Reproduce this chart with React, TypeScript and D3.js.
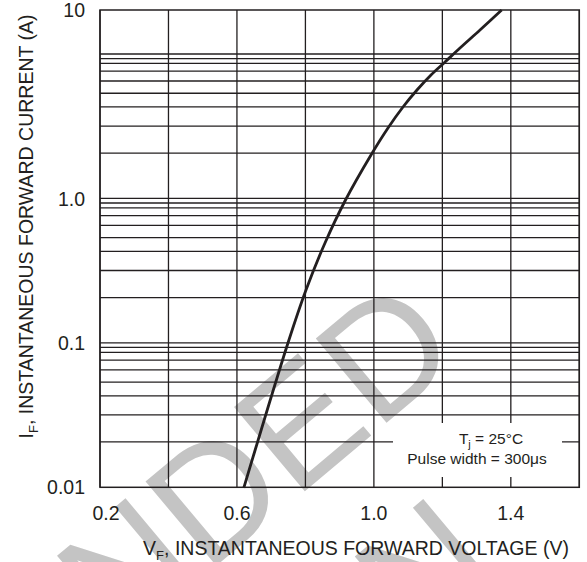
import React from "react";
import * as d3 from "d3";

const W = 587;
const H = 562;

// x axis (forward voltage, V)
const xGridValues = [0.2, 0.4, 0.6, 0.8, 1.0, 1.2, 1.4, 1.6];
const xTickValues = [0.2, 0.6, 1.0, 1.4];
const xTickLabels = ["0.2", "0.6", "1.0", "1.4"];

// y axis (forward current, A)
const yTickValues = [10, 1, 0.1, 0.01];
const yTickLabels = ["10", "1.0", "0.1", "0.01"];
const gridDecades = [0.01, 0.1, 1];
const gridMultipliers = [2.06, 3.17, 4.3, 5.35, 6.5, 7.6, 8.6, 9.3, 10];

// curve (Tj = 25°C)
const voltage = [0.62, 0.749, 0.8017, 0.8572, 0.9156, 0.9916, 1.0412, 1.085, 1.1259, 1.1668, 1.2077, 1.2515, 1.3099, 1.3733];
const current = [0.0099, 0.0998, 0.2325, 0.492, 0.961, 1.701, 2.366, 3.058, 3.763, 4.521, 5.299, 6.287, 7.833, 10];

// watermark lines
const watermarkLines = ["NOT RECOMMENDED", "FOR NEW DESIGN"];

const FONT = "'Liberation Sans', Arial, Helvetica, sans-serif";
const INK = "#231f20";

export default function App() {
  const left = 100, right = 579.3, top = 10, bottom = 487.3;
  const x = d3.scaleLinear().domain([0.2, 1.6]).range([left, right]);
  const y = d3.scaleLog().domain([0.01, 1, 10]).range([bottom, 198.5, top]);
  const yGrid = d3.scaleLog().domain([0.01, 10]).range([bottom, 54]);

  const gridValues: number[] = [];
  gridDecades.forEach((d) => gridMultipliers.forEach((m) => gridValues.push(d * m)));

  const line = d3
    .line<number>()
    .x((_, i) => x(voltage[i]))
    .y((_, i) => y(current[i]))
    .curve(d3.curveCatmullRom.alpha(0.5));

  const pts = voltage.map((_, i) => i);

  const wmAnchors = [
    [465, 357],
    [504, 575],
  ];

  return (
    <svg width={W} height={H} style={{ position: "absolute", left: 0, top: 0 }} fontFamily={FONT}>
      <rect width={W} height={H} fill="#fff" />
      {/* watermark */}
      {watermarkLines.map((t, i) => (
        <text
          key={"wm" + i}
          x={wmAnchors[i][0]}
          y={wmAnchors[i][1]}
          fontSize={160}
          fill="#c4c4c4"
          textAnchor="end"
          transform={`rotate(-40 ${wmAnchors[i][0]} ${wmAnchors[i][1]})`}
        >
          {t}
        </text>
      ))}
      {/* horizontal grid */}
      {gridValues.map((v, i) => (
        <line key={"h" + i} x1={left} x2={right} y1={yGrid(v)} y2={yGrid(v)} stroke={INK} strokeWidth={1.3} />
      ))}
      {/* vertical grid */}
      {xGridValues.map((v, i) => (
        <line key={"v" + i} x1={x(v)} x2={x(v)} y1={top} y2={bottom} stroke={INK} strokeWidth={1.3} />
      ))}
      {/* legend box */}
      <rect x={393} y={423} width={169} height={54} fill="#fff" />
      <text x={491} y={444} fontSize={15.5} textAnchor="middle" fill={INK}>
        T<tspan fontSize={11} dy={4}>j</tspan>
        <tspan dy={-4}> = 25°C</tspan>
      </text>
      <text x={477} y={463.5} fontSize={15.5} textAnchor="middle" fill={INK}>
        Pulse width = 300μs
      </text>
      {/* border */}
      <rect x={left} y={top} width={right - left} height={bottom - top} fill="none" stroke={INK} strokeWidth={1.5} />
      {/* curve */}
      <path d={line(pts) || ""} fill="none" stroke={INK} strokeWidth={2.8} />
      {/* x ticks */}
      {xTickValues.map((v, i) => (
        <text key={"xt" + i} x={x(v) + (i === 0 ? 6 : 0)} y={520} fontSize={19.5} textAnchor="middle" fill={INK}>
          {xTickLabels[i]}
        </text>
      ))}
      {/* y ticks */}
      {yTickValues.map((v, i) => (
        <text key={"yt" + i} x={85} y={y(v) + 7} fontSize={19.5} textAnchor="end" fill={INK}>
          {yTickLabels[i]}
        </text>
      ))}
      {/* axis titles */}
      <text x={356} y={555} fontSize={19.5} textAnchor="middle" fill={INK}>
        V<tspan fontSize={13} dy={5}>F</tspan>
        <tspan dy={-5}>, INSTANTANEOUS FORWARD VOLTAGE (V)</tspan>
      </text>
      <text x={33} y={226.5} fontSize={19.5} textAnchor="middle" fill={INK} transform="rotate(-90 33 226.5)">
        I<tspan fontSize={13} dy={5}>F</tspan>
        <tspan dy={-5}>, INSTANTANEOUS FORWARD CURRENT (A)</tspan>
      </text>
    </svg>
  );
}
